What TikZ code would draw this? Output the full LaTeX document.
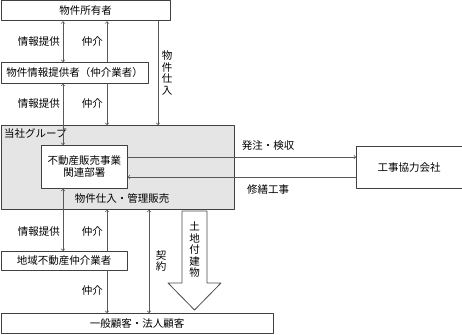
\documentclass[tikz,border=0pt]{standalone}
\usepackage{fontspec}
\setmainfont{Noto Sans CJK JP}
\begin{document}
\begin{tikzpicture}[x=1pt, y=-1pt, line join=round, line cap=round, >=to,
	box/.style={draw=black!75, line width=0.8pt, fill=white, inner sep=0pt, anchor=north west, font=\fontsize{10.5}{12}\selectfont},
	link/.style={draw=black!65, line width=0.7pt},
	lbl/.style={inner sep=0pt, font=\fontsize{10.5}{12}\selectfont},
	vlbl/.style={lbl, align=center, font=\fontsize{10.5}{11.5}\selectfont}]
	\useasboundingbox (0,0) rectangle (462,334);
	\path 	(63,0) coordinate (laneA)
	(107,0) coordinate (laneB)
	(158,0) coordinate (laneC)
	(149,0) coordinate (laneD)
	(0,157) coordinate (order)
	(0,177) coordinate (repair);
	% boxes
	\node[box, minimum width=169.5pt, minimum height=20pt] (owner) at (0.5,0.5) {物件所有者};
	\node[box, minimum width=147.5pt, minimum height=21pt] (provider) at (0.5,62) {物件情報提供者（仲介業者）};
	\node[box, fill=black!10, minimum width=233.5pt, minimum height=84pt] (group) at (0.5,125) {};
	\node[lbl, anchor=north west] (grouplbl) at (4,128) {当社グループ};
	\node[box, minimum width=86pt, minimum height=43pt, align=center] (dept) at (41,145) {不動産販売事業\\関連部署};
	\node[box, minimum width=105.5pt, minimum height=42pt] (contractor) at (356,146) {工事協力会社};
	\node[box, minimum width=126.5pt, minimum height=18.5pt] (agent) at (0.5,251) {地域不動産仲介業者};
	\node[box, minimum width=272.5pt, minimum height=20pt] (customer) at (0.5,313) {一般顧客・法人顧客};
	% connectors
	\draw[link,<->] (owner.south -| laneA) -- (provider.north -| laneA);
	\draw[link,->] (provider.north -| laneB) -- (owner.south -| laneB);
	\draw[link,->] (owner.south -| laneC) -- (group.north -| laneC);
	\draw[link,<->] (provider.south -| laneA) -- (dept.north -| laneA);
	\draw[link,->] (provider.south -| laneB) -- (group.north -| laneB);
	\draw[link,->] (dept.east |- order) -- (contractor.west |- order);
	\draw[link,->] (contractor.west |- repair) -- (dept.east |- repair);
	\draw[link,<->] (dept.south -| laneA) -- (agent.north -| laneA);
	\draw[link,->] (agent.north -| laneB) -- (group.south -| laneB);
	\draw[link,->] (agent.south -| laneB) -- (customer.north -| laneB);
	\draw[link,<->] (group.south -| laneD) -- (customer.north -| laneD);
	% hollow arrow
	\draw[black!70, line width=0.8pt, fill=white] (182,211) -- (207,211) -- (207,283) -- (221,283) -- (194.5,310) -- (168,283) -- (182,283) -- cycle;
	% labels
	\node[lbl, anchor=east] (info1) at (60,42) {情報提供};
	\node[lbl, anchor=east] (med1) at (103,42) {仲介};
	\node[vlbl] (buy) at (167,73) {物\\件\\仕\\入};
	\node[lbl, anchor=east] (info2) at (60,104) {情報提供};
	\node[lbl, anchor=east] (med2) at (103,104) {仲介};
	\node[lbl] (orderlbl) at (268,146) {発注・検収};
	\node[lbl] (repairlbl) at (268,190) {修繕工事};
	\node[lbl] (salelbl) at (122,198) {物件仕入・管理販売};
	\node[lbl, anchor=east] (info3) at (60,232) {情報提供};
	\node[lbl, anchor=east] (med3) at (103,232) {仲介};
	\node[vlbl] (contract) at (161,261) {契\\約};
	\node[vlbl] (land) at (194.5,250) {土\\地\\付\\建\\物};
	\node[lbl, anchor=east] (med4) at (103,291) {仲介};
\end{tikzpicture}
\end{document}
